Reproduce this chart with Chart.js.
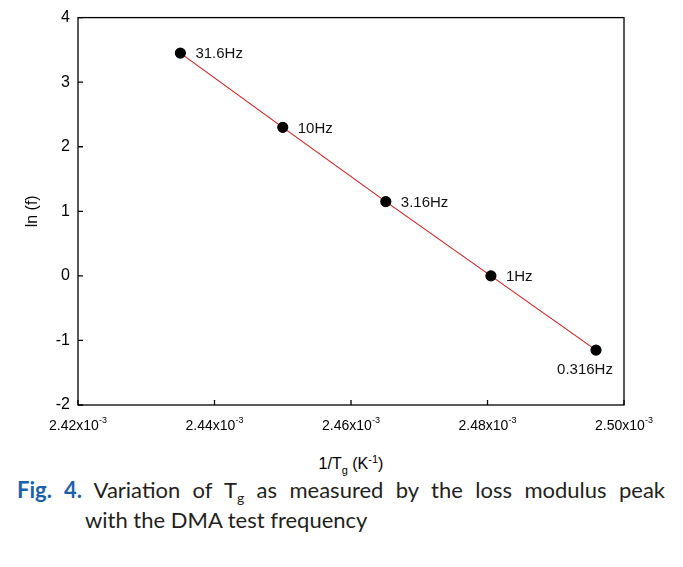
<!DOCTYPE html>
<html>
<head>
<meta charset="utf-8">
<script src="https://cdn.jsdelivr.net/npm/chart.js@4.4.1/dist/chart.umd.min.js"></script>
<style>
  body { margin: 0; background: #fff; }
  #wrap { position: relative; width: 683px; height: 567px; overflow: hidden; }
  #box { position: absolute; left: 0; top: 0; width: 683px; height: 450px; }
  #xtitle { position: absolute; top: 453px; left: 251px; width: 200px; text-align: center;
            font: 16px "Liberation Sans", Arial, sans-serif; color: #000; }
  #xtitle sub, #xtitle sup { font-size: 11px; }
  .cap { position: absolute; left: 17px; width: 648px; font: 22px Lato, "Noto Sans", sans-serif; color: #231f20; }
  .l1 { top: 476px; text-align: justify; text-align-last: justify; }
  .l2 { top: 506px; left: 85px; width: auto; }
  .fig { color: #1c62a8; font-weight: bold; }
  .cap sub { font-size: 14px; }
</style>
</head>
<body>
<div id="wrap">
  <div id="box"><canvas id="grafico" width="683" height="450"></canvas></div>
  <div id="xtitle">1/T<sub>g</sub> (K<sup>-1</sup>)</div>
  <div class="cap l1"><span class="fig">Fig. 4.</span> Variation of T<sub>g</sub> as measured by the loss modulus peak</div>
  <div class="cap l2">with the DMA test frequency</div>
</div>
<script>
// 1/Tg en unidades de 10^-3 K^-1
const invTg = [2.4350, 2.4500, 2.4651, 2.4805, 2.4959];
const lnF = [3.45, 2.30, 1.15, 0.00, -1.15];
const etiquetasFrec = ['31.6Hz', '10Hz', '3.16Hz', '1Hz', '0.316Hz'];
const ticksX = ['2.42', '2.44', '2.46', '2.48', '2.50'];
const ticksY = [-2, -1, 0, 1, 2, 3, 4];

const fuente = '"Liberation Sans", Arial, sans-serif';

// marco, marcas hacia dentro, etiquetas del eje x y de los puntos
const extras = {
    id: 'extras',
    afterDraw(chart) {
        const ctx = chart.ctx;
        const a = chart.chartArea;
        const sx = chart.scales.x;
        const sy = chart.scales.y;
        ctx.save();
        ctx.strokeStyle = '#000';
        ctx.lineWidth = 1.3;
        ctx.strokeRect(a.left, a.top, a.right - a.left, a.bottom - a.top);

        ctx.beginPath();
        ticksY.forEach(v => {
            const y = sy.getPixelForValue(v);
            ctx.moveTo(a.left, y);
            ctx.lineTo(a.left + 5, y);
        });
        ticksX.forEach(t => {
            const x = sx.getPixelForValue(parseFloat(t));
            ctx.moveTo(x, a.bottom);
            ctx.lineTo(x, a.bottom - 5);
        });
        ctx.stroke();

        // etiquetas x con exponente
        ctx.fillStyle = '#000';
        ctx.textBaseline = 'alphabetic';
        ticksX.forEach(t => {
            const x = sx.getPixelForValue(parseFloat(t));
            const base = t + 'x10';
            ctx.font = '14px ' + fuente;
            const w1 = ctx.measureText(base).width;
            ctx.font = '9px ' + fuente;
            const w2 = ctx.measureText('-3').width;
            const x0 = x - (w1 + w2) / 2;
            ctx.font = '14px ' + fuente;
            ctx.textAlign = 'left';
            ctx.fillText(base, x0, a.bottom + 25);
            ctx.font = '9px ' + fuente;
            ctx.fillText('-3', x0 + w1, a.bottom + 18);
        });

        // etiquetas de frecuencia
        ctx.font = '15px ' + fuente;
        ctx.fillStyle = '#111';
        invTg.forEach((v, i) => {
            const x = sx.getPixelForValue(v);
            const y = sy.getPixelForValue(lnF[i]);
            if (i === invTg.length - 1) {
                ctx.textAlign = 'center';
                ctx.textBaseline = 'middle';
                ctx.fillText(etiquetasFrec[i], x - 11, y + 20);
            } else {
                ctx.textAlign = 'left';
                ctx.textBaseline = 'middle';
                ctx.fillText(etiquetasFrec[i], x + 15, y + 1);
            }
        });
        ctx.restore();
    }
};

new Chart(document.getElementById('grafico'), {
    type: 'scatter',
    data: {
        datasets: [{
            data: invTg.map((v, i) => ({ x: v, y: lnF[i] })),
            showLine: true,
            borderColor: '#d42020',
            borderWidth: 1.2,
            pointBackgroundColor: '#000',
            pointBorderColor: '#000',
            pointRadius: 5,
            pointHoverRadius: 5
        }]
    },
    options: {
        responsive: false,
        animation: false,
        layout: { padding: { top: 15, right: 59, left: 0, bottom: 0 } },
        plugins: { legend: { display: false }, tooltip: { enabled: false } },
        scales: {
            x: {
                type: 'linear',
                min: 2.42,
                max: 2.50,
                ticks: { display: false, stepSize: 0.02 },
                grid: { display: false },
                border: { display: false },
                afterFit: s => { s.height = 45; }
            },
            y: {
                min: -2,
                max: 4,
                ticks: {
                    stepSize: 1,
                    color: '#000',
                    padding: 8,
                    font: { size: 16, family: fuente }
                },
                grid: { display: false, drawTicks: false },
                border: { display: false },
                title: {
                    display: true,
                    text: 'ln (f)',
                    color: '#000',
                    font: { size: 16, family: fuente },
                    padding: { top: 23, bottom: 0 }
                },
                afterFit: s => { s.width = 78; }
            }
        }
    },
    plugins: [extras]
});
</script>
</body>
</html>
